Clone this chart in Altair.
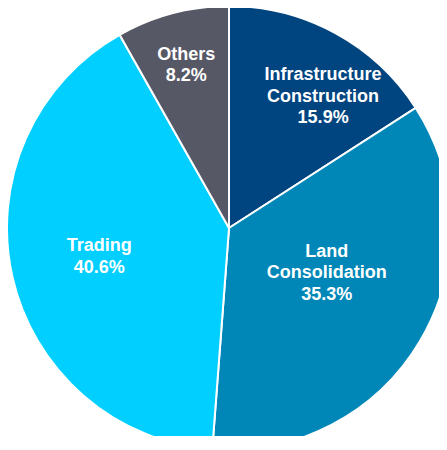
import altair as alt
import pandas as pd

categories = ["Infrastructure\nConstruction", "Land\nConsolidation", "Trading", "Others"]
shares = [15.9, 35.3, 40.6, 8.2]
colors = ["#004480", "#0087B7", "#00CFFF", "#575866"]

df = pd.DataFrame({
    "category": categories,
    "share": shares,
    "order": list(range(len(categories))),
})
df["label"] = df["category"] + "\n" + df["share"].map(lambda v: f"{v:.1f}%")

CX, CY, R = 221, 220, 222
LH = 21.5

base = alt.Chart(df).encode(
    theta=alt.Theta("share:Q", stack=True),
    order=alt.Order("order:Q"),
    x=alt.value(CX),
    y=alt.value(CY),
)

pie = base.mark_arc(radius=R, stroke="white", strokeWidth=2).encode(
    color=alt.Color("category:N", scale=alt.Scale(domain=categories, range=colors), legend=None)
)

# per-label placement (layout)
label_layout = {
    "Infrastructure\nConstruction": dict(radius=161, dx=17, dy=10),
    "Land\nConsolidation": dict(radius=108, dx=5, dy=-10),
    "Trading": dict(radius=133, dx=0, dy=0),
    "Others": dict(radius=168, dx=0, dy=0),
}

layers = [pie]
for cat in categories:
    lay = label_layout[cat]
    n_lines = cat.count("\n") + 2
    layers.append(
        base.mark_text(
            radius=lay["radius"], dx=lay["dx"], dy=lay["dy"] - (n_lines - 1) * LH / 2,
            font="Liberation Sans", fontWeight="bold", fontSize=18,
            color="white", lineBreak="\n", lineHeight=LH,
            align="center", baseline="middle",
        ).encode(
            text="label:N",
            opacity=alt.condition(alt.datum.category == cat, alt.value(1), alt.value(0)),
        )
    )

chart = alt.layer(*layers).properties(
    width=431, height=428,
    autosize=alt.AutoSizeParams(type="none"),
    padding=0,
).configure_view(stroke=None)

chart.save("out.html", embed_options={"renderer": "svg", "actions": False})
